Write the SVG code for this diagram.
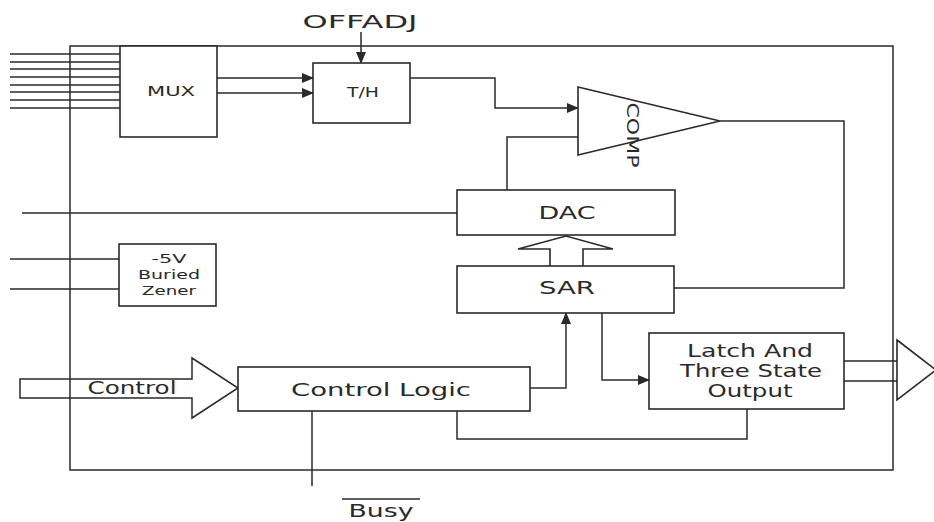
<svg xmlns="http://www.w3.org/2000/svg" width="934" height="522" viewBox="0 0 934 522">
<defs>
<marker id="ah" markerWidth="12" markerHeight="10" refX="11" refY="5" orient="auto" markerUnits="userSpaceOnUse">
<path d="M0,0 L12,5 L0,10 Z" fill="#2a2a2a"/>
</marker>
<style>
.b{fill:#fff;stroke:#2a2a2a;stroke-width:1.6}
.w{fill:none;stroke:#2a2a2a;stroke-width:1.5}
.t{font-family:"DejaVu Sans","Liberation Sans",sans-serif;fill:#2a2a2a;text-anchor:middle}
</style>
</defs>
<rect width="934" height="522" fill="#fff"/>
<g id="frame"><rect x="70" y="46" width="823" height="424" class="w"/></g>
<g id="connectors">
<path class="w" d="M10,54H120M10,62H120M10,69H120M10,77H120M10,85H120M10,92H120M10,100H120M10,108H120"/>
<path class="w" d="M217,78H313" marker-end="url(#ah)"/>
<path class="w" d="M217,93H313" marker-end="url(#ah)"/>
<path class="w" d="M361,32V63" marker-end="url(#ah)"/>
<path class="w" d="M410,78H495V108H578" marker-end="url(#ah)"/>
<path class="w" d="M507,190V137H578"/>
<path class="w" d="M720,121H844V288H674"/>
<path class="w" d="M22,213H457"/>
<path class="w" d="M10,259H119M10,289H119"/>
<path class="w" d="M530,388H566V313" marker-end="url(#ah)"/>
<path class="w" d="M602,313V380H649" marker-end="url(#ah)"/>
<path class="w" d="M747,409V439H457V411"/>
<path class="w" d="M312,411V486"/>
<path class="w" d="M844,361H897M844,381H897"/>
<path class="b" d="M550,266V249H518L566,236L613,249H583V266"/>
<path class="w" d="M20,379H192V358L238,388L192,418V398H20Z"/>
<path class="b" d="M897,340L936,370L897,400Z"/>
</g>
<g id="mux"><rect x="120" y="46" width="97" height="91" class="b"/><text class="t" x="171" y="96" font-size="14" textLength="48" lengthAdjust="spacingAndGlyphs">MUX</text></g>
<g id="th"><rect x="313" y="63" width="97" height="60" class="b"/><text class="t" x="363" y="97" font-size="14" textLength="32" lengthAdjust="spacingAndGlyphs">T/H</text></g>
<g id="offadj"><text class="t" x="360" y="28" font-size="17" textLength="115" lengthAdjust="spacingAndGlyphs">OFFADJ</text></g>
<g id="comp"><path class="b" d="M578,87L720,121L578,155Z"/><text class="t" transform="translate(627,135) rotate(90)" font-size="15" textLength="65" lengthAdjust="spacingAndGlyphs">COMP</text></g>
<g id="dac"><rect x="457" y="190" width="218" height="45" class="b"/><text class="t" x="567" y="219" font-size="17" textLength="57" lengthAdjust="spacingAndGlyphs">DAC</text></g>
<g id="sar"><rect x="457" y="266" width="217" height="47" class="b"/><text class="t" x="567" y="294" font-size="17" textLength="56" lengthAdjust="spacingAndGlyphs">SAR</text></g>
<g id="zener"><rect x="119" y="244" width="97" height="62" class="b"/>
<text class="t" x="169" y="263" font-size="13" textLength="35" lengthAdjust="spacingAndGlyphs">-5V</text>
<text class="t" x="169" y="279" font-size="13" textLength="62" lengthAdjust="spacingAndGlyphs">Buried</text>
<text class="t" x="169" y="295" font-size="13" textLength="54" lengthAdjust="spacingAndGlyphs">Zener</text></g>
<g id="control"><text class="t" x="132" y="394" font-size="18" textLength="89" lengthAdjust="spacingAndGlyphs">Control</text></g>
<g id="controllogic"><rect x="238" y="367" width="292" height="44" class="b"/><text class="t" x="381" y="396" font-size="18" textLength="180" lengthAdjust="spacingAndGlyphs">Control Logic</text></g>
<g id="latch"><rect x="649" y="333" width="195" height="76" class="b"/>
<text class="t" x="750" y="357" font-size="17" textLength="126" lengthAdjust="spacingAndGlyphs">Latch And</text>
<text class="t" x="751" y="377" font-size="17" textLength="142" lengthAdjust="spacingAndGlyphs">Three State</text>
<text class="t" x="750" y="397" font-size="17" textLength="85" lengthAdjust="spacingAndGlyphs">Output</text></g>
<g id="busy"><path class="w" d="M342,499H420"/><text class="t" x="381" y="517" font-size="17" textLength="65" lengthAdjust="spacingAndGlyphs">Busy</text></g>
</svg>
